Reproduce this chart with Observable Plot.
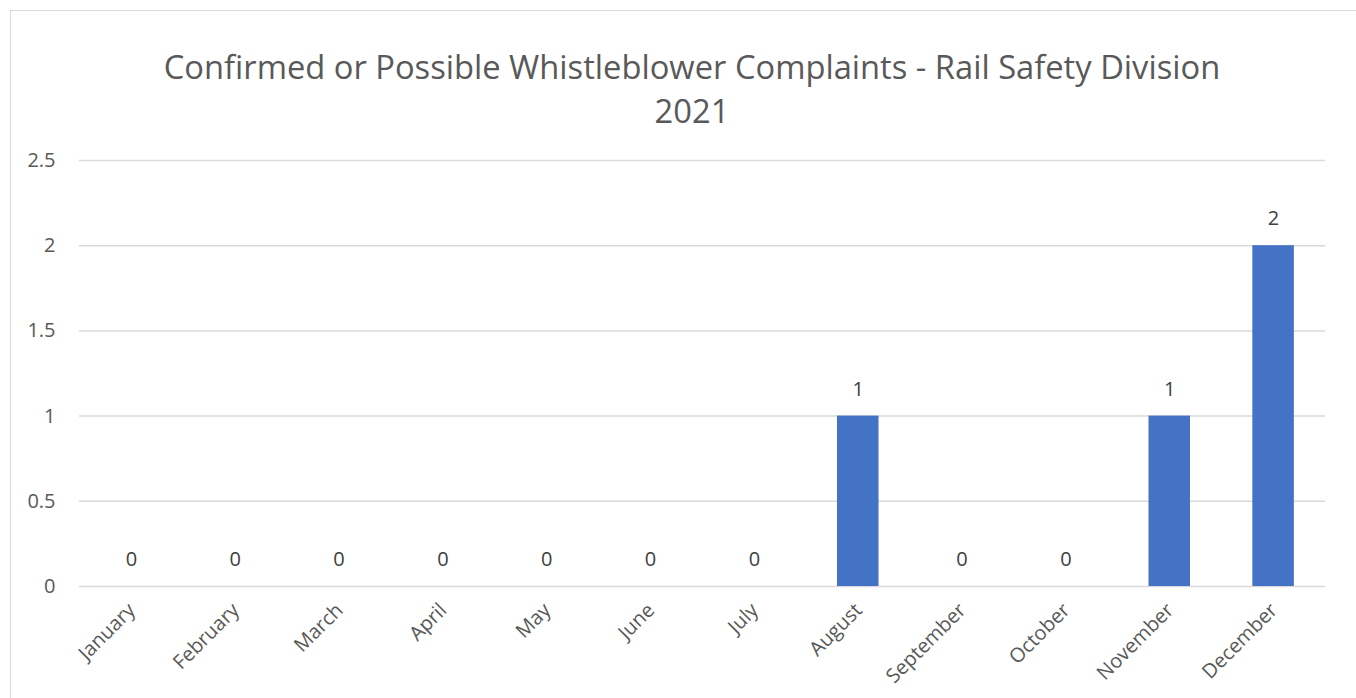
<!DOCTYPE html>
<html>
<head>
<meta charset="utf-8">
<script src="https://cdn.jsdelivr.net/npm/d3@7"></script>
<script src="https://cdn.jsdelivr.net/npm/@observablehq/plot@0.6"></script>
<style>
  html, body { margin: 0; padding: 0; background: #fff; }
  #wrap { position: relative; width: 1356px; height: 698px; overflow: hidden; font-family: "Open Sans", sans-serif; }
  #frame { position: absolute; left: 10px; top: 10px; width: 1350px; height: 720px; border: 1.5px solid #d9d9d9; box-sizing: border-box; }
  #title { position: absolute; left: 0; width: 1384px; top: 45px; text-align: center; color: #595959; font-size: 32.7px; line-height: 44px; }
  #chart { position: absolute; left: 0; top: 0; }
</style>
</head>
<body>
<div id="wrap">
  <div id="frame"></div>
  <div id="chart"></div>
  <div id="title">Confirmed or Possible Whistleblower Complaints - Rail Safety Division<br>2021</div>
</div>
<script>
const months = ["January","February","March","April","May","June","July","August","September","October","November","December"];
const complaints = [0,0,0,0,0,0,0,1,0,0,1,2];
const yTicks = [0,0.5,1,1.5,2,2.5];

const data = months.map((m, i) => ({month: m, value: complaints[i]}));

const chart = Plot.plot({
  width: 1356,
  height: 698,
  marginLeft: 79,
  marginRight: 31,
  marginTop: 160,
  marginBottom: 112,
  style: {fontFamily: "'Open Sans', sans-serif", fontSize: "20px", color: "#595959", background: "transparent"},
  x: {domain: months, paddingInner: 0.6, paddingOuter: 0.3, round: false, axis: null},
  y: {domain: [0, 2.5], axis: null},
  marks: [
    Plot.gridY(yTicks, {stroke: "#d9d9d9", strokeOpacity: 1, strokeWidth: 1.5}),
    Plot.axisY(yTicks, {tickSize: 0, tickPadding: 24, tickFormat: d => `${d}`, fontSize: 20, fill: "#595959", label: null}),
    Plot.barY(data, {x: "month", y: "value", fill: "#4472c4"}),
    Plot.text(data, {x: "month", y: "value", text: d => `${d.value}`, dy: -27, fontSize: 20, fill: "#404040"}),
    Plot.text(months, {x: d => d, frameAnchor: "bottom", rotate: -45, textAnchor: "end", dx: 5, dy: 25, fontSize: 20, fill: "#595959"})
  ]
});
document.getElementById("chart").appendChild(chart);
</script>
</body>
</html>
